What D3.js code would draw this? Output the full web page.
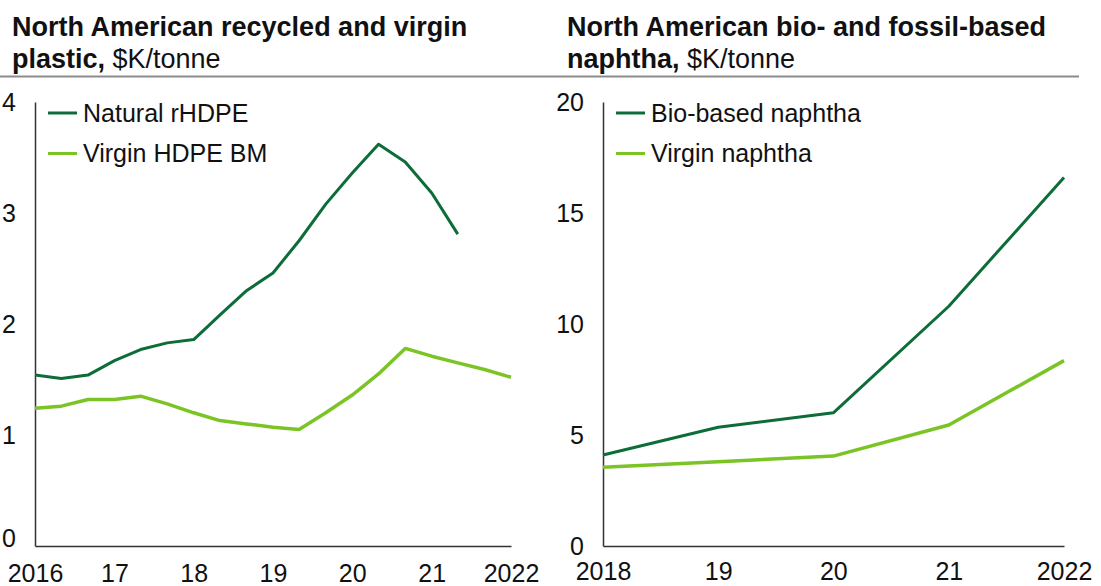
<!DOCTYPE html>
<html>
<head>
<meta charset="utf-8">
<script src="https://cdn.jsdelivr.net/npm/d3@7"></script>
<style>
  html, body { margin: 0; padding: 0; background: #fff; }
  svg { display: block; font-family: "Liberation Sans", Arial, sans-serif; }
</style>
</head>
<body>
<svg id="chart" width="1101" height="586"></svg>
<script>
// Left panel: recycled vs virgin HDPE, every four months
const plasticDates = [
  "2016-01", "2016-05", "2016-09",
  "2017-01", "2017-05", "2017-09",
  "2018-01", "2018-05", "2018-09",
  "2019-01", "2019-05", "2019-09",
  "2020-01", "2020-05", "2020-09",
  "2021-01", "2021-05", "2021-09",
  "2022-01"
];
const naturalRHDPE = [1.54, 1.51, 1.54, 1.67, 1.77, 1.83, 1.86, 2.08, 2.30, 2.46, 2.75, 3.08, 3.36, 3.62, 3.46, 3.18, 2.81, null, null];
const virginHDPE   = [1.24, 1.26, 1.32, 1.32, 1.35, 1.28, 1.20, 1.13, 1.10, 1.07, 1.05, 1.20, 1.36, 1.55, 1.78, 1.71, 1.65, 1.59, 1.52];
const plasticXTicks = ["2016", "17", "18", "19", "20", "21", "2022"];
const plasticYTicks = [0, 1, 2, 3, 4];

// Right panel: bio-based vs virgin naphtha, yearly
const naphthaDates = ["2018-01", "2019-01", "2020-01", "2021-01", "2022-01"];
const bioNaphtha    = [4.1, 5.35, 6.0, 10.8, 16.6];
const virginNaphtha = [3.55, 3.8, 4.05, 5.45, 8.35];
const naphthaXTicks = ["2018", "19", "20", "21", "2022"];
const naphthaYTicks = [0, 5, 10, 15, 20];

const DARK = "#0d6c37";
const LIGHT = "#7bc425";
const parse = d3.timeParse("%Y-%m");
const svg = d3.select("#chart");

// Header rule across both panels
svg.append("line")
  .attr("x1", 0).attr("x2", 1079).attr("y1", 76.5).attr("y2", 76.5)
  .attr("stroke", "#8c8c8c").attr("stroke-width", 2);

function title(x, boldLines, unit) {
  const t = svg.append("text").attr("fill", "#111").attr("font-size", 27);
  t.append("tspan").attr("x", x).attr("y", 36).attr("font-weight", "bold").text(boldLines[0]);
  const l2 = t.append("tspan").attr("x", x).attr("y", 68);
  l2.append("tspan").attr("font-weight", "bold").text(boldLines[1]);
  l2.append("tspan").text(" " + unit);
}

title(12, ["North American recycled and virgin", "plastic,"], "$K/tonne");
title(567, ["North American bio- and fossil-based", "naphtha,"], "$K/tonne");

function panel(opts) {
  const dates = opts.dates.map(parse);
  const x = d3.scaleTime()
    .domain([parse(opts.xTickDates[0]), parse(opts.xTickDates[opts.xTickDates.length - 1])])
    .range([opts.x0, opts.x1]);
  const y = d3.scaleLinear().domain([0, opts.yMax]).range([546, 102]);
  const g = svg.append("g");

  // Y axis: labels only, with a plain vertical rule
  const yAxis = d3.axisLeft(y).tickValues(opts.yTicks).tickSize(0).tickPadding(19)
    .tickFormat(d3.format("d"));
  const ya = g.append("g").attr("transform", `translate(${opts.x0},0)`).call(yAxis);
  ya.select(".domain").attr("stroke", "#333").attr("stroke-width", 1.5);
  ya.selectAll("text").attr("font-size", 25).attr("fill", "#111")
    .attr("font-family", "Liberation Sans, Arial, sans-serif");
  if (opts.zeroShift) ya.selectAll(".tick").filter(d => d === 0).select("text").attr("dy", "0.0em");

  // X axis
  const tickDates = opts.xTickDates.map(parse);
  const xAxis = d3.axisBottom(x).tickValues(tickDates).tickSize(0).tickPadding(opts.xPad)
    .tickFormat((d, i) => opts.xTicks[i]);
  const xa = g.append("g").attr("transform", "translate(0,546)").call(xAxis);
  xa.select(".domain").attr("stroke", "#333").attr("stroke-width", 1.5);
  xa.selectAll("text").attr("font-size", 25).attr("fill", "#111")
    .attr("font-family", "Liberation Sans, Arial, sans-serif");

  // Series
  opts.series.forEach(s => {
    const line = d3.line()
      .defined(d => d.v != null)
      .x(d => x(d.date))
      .y(d => y(d.v));
    g.append("path")
      .datum(dates.map((date, i) => ({ date, v: s.values[i] })))
      .attr("fill", "none")
      .attr("stroke", s.color)
      .attr("stroke-width", s.width)
      .attr("stroke-linejoin", "round")
      .attr("d", line);
  });

  // Legend
  opts.series.forEach((s, i) => {
    const ly = 113 + i * 40.5;
    g.append("line")
      .attr("x1", opts.x0 + 13).attr("x2", opts.x0 + 42)
      .attr("y1", ly).attr("y2", ly)
      .attr("stroke", s.color).attr("stroke-width", 3);
    g.append("text")
      .attr("x", opts.x0 + 48).attr("y", ly).attr("dy", "0.35em")
      .attr("font-size", 25).attr("fill", "#111")
      .text(s.name);
  });
}

panel({
  dates: plasticDates,
  xTickDates: ["2016-01", "2017-01", "2018-01", "2019-01", "2020-01", "2021-01", "2022-01"],
  xTicks: plasticXTicks,
  yTicks: plasticYTicks,
  yMax: 4,
  x0: 35, x1: 511,
  xPad: 18,
  zeroShift: true,
  series: [
    { name: "Natural rHDPE", values: naturalRHDPE, color: DARK, width: 3 },
    { name: "Virgin HDPE BM", values: virginHDPE, color: LIGHT, width: 3.5 }
  ]
});

panel({
  dates: naphthaDates,
  xTickDates: naphthaDates,
  xTicks: naphthaXTicks,
  yTicks: naphthaYTicks,
  yMax: 20,
  x0: 603, x1: 1064,
  xPad: 16,
  series: [
    { name: "Bio-based naphtha", values: bioNaphtha, color: DARK, width: 3 },
    { name: "Virgin naphtha", values: virginNaphtha, color: LIGHT, width: 3.5 }
  ]
});
</script>
</body>
</html>
